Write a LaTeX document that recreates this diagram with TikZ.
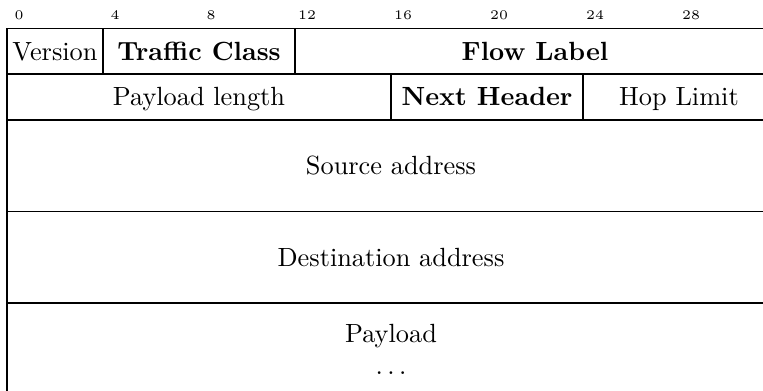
\documentclass[tikz,border=0pt]{standalone}
\begin{document}
\begin{tikzpicture}[x=0.37994pt,y=-0.37994pt,
  cell/.style={draw=black, line width=0.6pt},
  lbl/.style={inner sep=0pt, text height=6.83pt, text depth=0pt, font=\fontsize{10}{12}\selectfont},
  blbl/.style={lbl, font=\fontsize{10}{12}\selectfont\bfseries},
  bitnum/.style={inner sep=0pt, anchor=base, font=\tiny}]
\useasboundingbox (0,0) rectangle (763,391);
% bit numbers
\foreach \b in {0,4,...,28}
  \node[bitnum] (bit\b) at ({19+24*\b},20) {\b};
% row 1
\draw[cell] (7,28.3) rectangle (103,74.1);
\draw[cell] (103,28.3) rectangle (295,74.1);
\draw[cell] (295,28.3) rectangle (775,74.1);
\node[lbl]  (version) at (55,51.2) {Version};
\node[blbl] (tclass)  at (199,51.2) {Traffic Class};
\node[blbl] (flow)    at (535,51.2) {Flow Label};
% row 2
\draw[cell] (7,74.1) rectangle (391,119.9);
\draw[cell] (391,74.1) rectangle (583,119.9);
\draw[cell] (583,74.1) rectangle (775,119.9);
\node[lbl]  (plen) at (199,97) {Payload length};
\node[blbl] (next) at (487,97) {Next Header};
\node[lbl]  (hop)  at (679,97) {Hop Limit};
% addresses
\draw[cell] (7,119.9) rectangle (775,211.5);
\node[lbl] (src) at (391,165.7) {Source address};
\draw[cell] (7,211.5) rectangle (775,303.1);
\node[lbl] (dst) at (391,257.3) {Destination address};
% payload
\draw[cell] (7,303.1) rectangle (775,394.7);
\node[inner sep=0pt, anchor=north, align=center, font=\fontsize{10}{12}\selectfont] (payload) at (391,323.7) {Payload\\$\ldots$};
\end{tikzpicture}
\end{document}
